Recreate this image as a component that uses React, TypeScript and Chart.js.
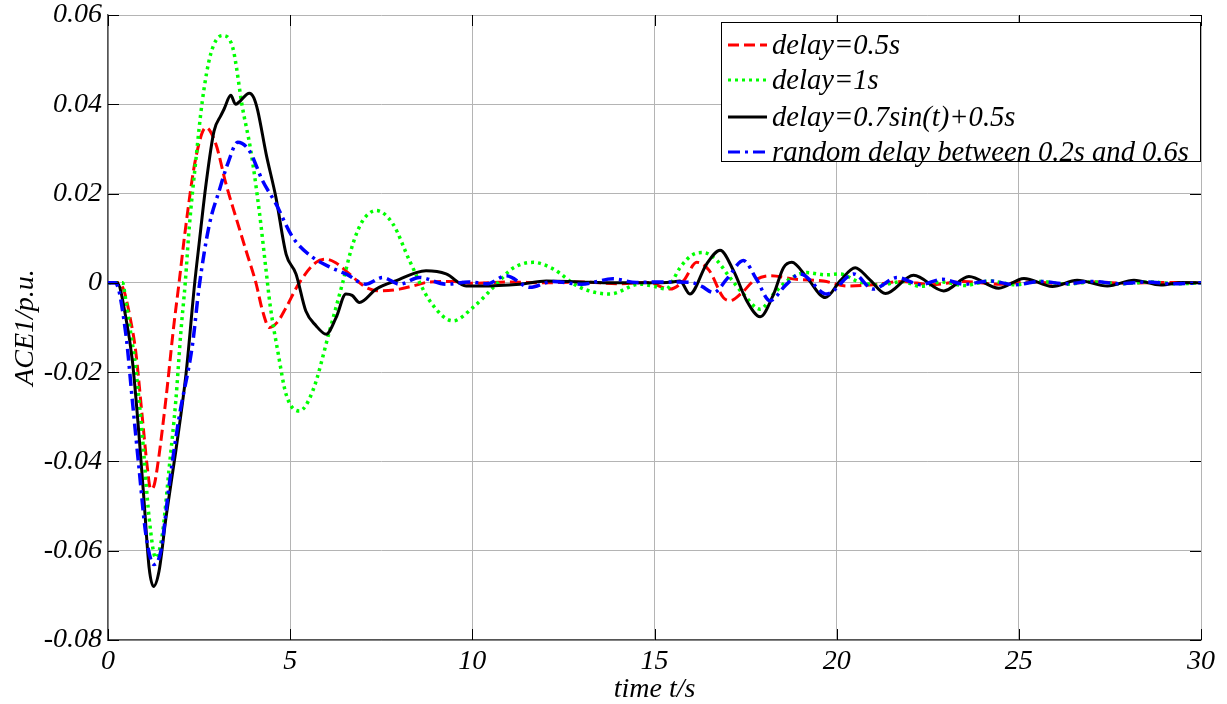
import React, { useEffect, useRef } from 'react';
import { Chart, registerables } from 'chart.js';

Chart.register(...registerables);

// ---- data (time t/s, ACE1/p.u.) ----
const legendLabels = [
  'delay=0.5s',
  'delay=1s',
  'delay=0.7sin(t)+0.5s',
  'random delay between 0.2s and 0.6s',
];

const xTickValues = [0, 5, 10, 15, 20, 25, 30];
const yTickValues = [-0.08, -0.06, -0.04, -0.02, 0, 0.02, 0.04, 0.06];

const delay05: [number, number][] = [
  [0, 0], [0.3, 0], [0.44, -0.0018], [0.6, -0.0075], [0.76, -0.0153], [0.94, -0.03], [1.08, -0.0414],
  [1.17, -0.0462], [1.26, -0.0455], [1.36, -0.041], [1.59, -0.026], [1.8, -0.01], [1.95, 0], [2.14, 0.013],
  [2.41, 0.028], [2.69, 0.0348], [2.96, 0.0311], [3.24, 0.0221], [3.51, 0.0147], [3.79, 0.0072], [4.06, 0],
  [4.25, -0.0065], [4.43, -0.01], [4.65, -0.0088], [4.89, -0.0055], [5.25, 0], [5.71, 0.0046], [5.98, 0.0053],
  [6.25, 0.0045], [6.53, 0.0027], [7.08, -0.001], [7.45, -0.0018], [8.0, -0.0014], [8.37, -0.0007],
  [8.83, 0.0002], [9.5, 0.0003], [10.0, -0.0001], [11.0, 0.0002], [12.0, 0], [13.0, 0.0002], [14.0, -0.0002],
  [14.8, 0.0001], [15.43, -0.0014], [15.8, 0.0005], [16.16, 0.0046], [16.5, 0.0028], [16.89, -0.0033],
  [17.07, -0.004], [17.4, -0.0022], [17.72, 0.0004], [18.17, 0.0016], [18.9, 0.0008], [19.64, 0.0004],
  [20.28, -0.0007], [21.0, -0.0004], [21.8, 0.0003], [22.6, -0.0004], [23.5, 0.0003], [24.4, -0.0003],
  [25.3, 0.0002], [26.2, -0.0002], [27.1, 0.0002], [28.0, -0.0001], [28.9, 0.0001], [30, 0],
];

const delay1: [number, number][] = [
  [0, 0], [0.4, 0], [0.49, -0.004], [0.62, -0.011], [0.76, -0.019], [0.94, -0.034], [1.13, -0.0527],
  [1.31, -0.0616], [1.49, -0.0564], [1.68, -0.0414], [1.86, -0.0265], [2.0, -0.011], [2.12, 0],
  [2.23, 0.0124], [2.41, 0.0274], [2.59, 0.0408], [2.82, 0.0513], [3.14, 0.0554], [3.42, 0.0528],
  [3.69, 0.0393], [3.92, 0.0296], [4.15, 0.0162], [4.34, 0.0027], [4.45, -0.005], [4.66, -0.0153],
  [4.89, -0.025], [5.25, -0.0287], [5.62, -0.0242], [6.08, -0.0108], [6.44, 0], [6.72, 0.0087],
  [6.99, 0.0139], [7.36, 0.0162], [7.82, 0.0132], [8.28, 0.0049], [8.83, -0.004], [9.47, -0.0085],
  [10.02, -0.0055], [10.66, -0.0003], [11.1, 0.0032], [11.67, 0.0046], [12.2, 0.0032], [12.95, -0.001],
  [13.78, -0.0025], [14.6, -0.0003], [15.0, -0.0008], [15.33, -0.0014], [15.5, 0.0005], [15.7, 0.0034],
  [16.07, 0.0064], [16.34, 0.0068], [16.71, 0.005], [17.07, 0.0012], [17.44, -0.0025], [17.9, -0.0059],
  [18.27, -0.0025], [18.63, 0.0004], [19.18, 0.0023], [19.7, 0.0018], [20.1, 0.002], [20.56, 0.0004],
  [21.2, -0.0005], [21.8, 0.0003], [22.3, -0.0008], [22.9, 0.0002], [23.5, -0.0006], [24.2, 0.0004],
  [24.9, -0.0004], [25.6, 0.0003], [26.3, -0.0003], [27.0, 0.0002], [27.8, -0.0002], [28.6, 0.0002],
  [29.3, -0.0002], [30, 0],
];

const delaySin: [number, number][] = [
  [0, 0], [0.25, 0], [0.49, -0.0078], [0.67, -0.0175], [0.85, -0.034], [0.99, -0.0489], [1.13, -0.0639],
  [1.25, -0.068], [1.4, -0.0646], [1.59, -0.0527], [1.86, -0.0377], [2.14, -0.0205], [2.38, 0],
  [2.5, 0.0087], [2.69, 0.0221], [2.91, 0.034], [3.1, 0.0375], [3.19, 0.039], [3.37, 0.042], [3.5, 0.04],
  [3.6, 0.0405], [3.88, 0.0425], [4.0, 0.0415], [4.11, 0.0386], [4.34, 0.0289], [4.61, 0.0191],
  [4.89, 0.0064], [5.16, 0.002], [5.43, -0.0063], [5.71, -0.0096], [5.99, -0.0115], [6.26, -0.0078],
  [6.53, -0.0025], [6.7, -0.0028], [6.9, -0.0044], [7.36, -0.0014], [8.0, 0.0008], [8.46, 0.0023],
  [8.73, 0.0027], [9.28, 0.002], [9.83, -0.0007], [10.2, -0.0007], [11.3, -0.0003], [12.03, 0.0004],
  [12.95, 0.0002], [13.86, 0], [14.78, 0], [15.5, 0.0002], [15.7, 0.0004], [15.97, -0.0025],
  [16.43, 0.0042], [16.8, 0.0073], [17.17, 0.0027], [17.53, -0.004], [17.9, -0.0076], [18.27, -0.0025],
  [18.54, 0.0034], [18.77, 0.0046], [19.18, 0.0012], [19.69, -0.0033], [20.1, 0.0005], [20.51, 0.0034],
  [20.9, 0.0008], [21.34, -0.0024], [22.11, 0.0017], [22.94, -0.0018], [23.63, 0.0014], [24.45, -0.0012],
  [25.14, 0.001], [25.92, -0.0008], [26.6, 0.0006], [27.43, -0.0007], [28.16, 0.0006], [28.9, -0.0005],
  [29.5, 0.0001], [30, 0],
];

const delayRandom: [number, number][] = [
  [0, 0], [0.2, 0], [0.49, -0.0115], [0.67, -0.0265], [0.85, -0.0414], [1.04, -0.0564], [1.26, -0.0631],
  [1.45, -0.0601], [1.68, -0.0452], [1.95, -0.0302], [2.32, -0.0138], [2.5, -0.001], [2.78, 0.013],
  [3.05, 0.0206], [3.3, 0.027], [3.56, 0.0315], [3.88, 0.0296], [4.24, 0.0229], [4.61, 0.0177],
  [5.07, 0.0102], [5.62, 0.0057], [6.1, 0.0035], [6.53, 0.002], [7.08, -0.0003], [7.54, 0.0012],
  [8.0, -0.0003], [8.55, 0.0012], [9.28, -0.0003], [9.9, 0.0002], [10.4, -0.0002], [10.93, 0.0016],
  [11.58, -0.001], [12.2, 0.0003], [13.0, -0.0003], [13.86, 0.0009], [14.5, 0.0001], [15.2, 0.0002],
  [16.0, 0.0001], [16.3, -0.0008], [16.62, -0.0022], [17.0, 0.001], [17.44, 0.005], [17.8, 0.0008],
  [18.17, -0.004], [18.6, -0.0005], [19.0, 0.002], [19.73, -0.0025], [20.47, 0.002], [21.0, -0.0014],
  [21.66, 0.0012], [22.3, -0.0004], [22.9, 0.0008], [23.5, -0.0003], [24.2, 0.0004], [24.9, -0.0004],
  [25.6, 0.0003], [26.3, -0.0002], [27.0, 0.0003], [27.8, -0.0002], [28.5, 0.0002], [29.2, -0.0002], [30, 0],
];

const FONT = '"Liberation Serif", "Times New Roman", serif';

const seriesStyles = [
  { color: '#ff0000', dash: [11, 5], width: 3 },
  { color: '#00ff00', dash: [3, 4], width: 3.5 },
  { color: '#000000', dash: [] as number[], width: 3 },
  { color: '#0000ff', dash: [12, 5, 3, 5], width: 3.5 },
];

const legendPlugin = {
  id: 'boxLegend',
  afterDraw(chart: any) {
    const { ctx, chartArea } = chart;
    const right = chartArea.right;
    const left = right - 480;
    const top = chartArea.top + 7;
    const bottom = top + 139;
    ctx.save();
    ctx.fillStyle = '#ffffff';
    ctx.fillRect(left, top, right - left, bottom - top);
    ctx.strokeStyle = '#000000';
    ctx.lineWidth = 1;
    ctx.strokeRect(Math.round(left) + 0.5, Math.round(top) + 0.5, right - left - 1, bottom - top);
    const rows = [23, 58, 95, 130];
    ctx.font = `italic 28.6px ${FONT}`;
    ctx.textBaseline = 'middle';
    ctx.textAlign = 'left';
    legendLabels.forEach((label, i) => {
      const st = seriesStyles[i];
      const y = top + rows[i];
      ctx.beginPath();
      ctx.setLineDash(st.dash);
      ctx.strokeStyle = st.color;
      ctx.lineWidth = 3;
      ctx.moveTo(left + 7, y);
      ctx.lineTo(left + 46, y);
      ctx.stroke();
      ctx.setLineDash([]);
      ctx.fillStyle = '#000000';
      ctx.fillText(label, left + 51, y + 1);
    });
    ctx.restore();
  },
};

const innerTicksPlugin = {
  id: 'innerTicks',
  afterDatasetsDraw(chart: any) {
    const { ctx, chartArea, scales } = chart;
    const L = 11;
    ctx.save();
    ctx.strokeStyle = '#000000';
    ctx.lineWidth = 1;
    ctx.beginPath();
    yTickValues.forEach((v) => {
      const y = Math.round(scales.y.getPixelForValue(v)) + 0.5;
      ctx.moveTo(chartArea.left, y);
      ctx.lineTo(chartArea.left + L, y);
      ctx.moveTo(chartArea.right, y);
      ctx.lineTo(chartArea.right - L, y);
    });
    xTickValues.forEach((v) => {
      const x = Math.round(scales.x.getPixelForValue(v)) + 0.5;
      ctx.moveTo(x, chartArea.bottom);
      ctx.lineTo(x, chartArea.bottom - L);
      ctx.moveTo(x, chartArea.top);
      ctx.lineTo(x, chartArea.top + L);
    });
    ctx.stroke();
    ctx.restore();
  },
};

export default function App() {
  const canvasRef = useRef<HTMLCanvasElement>(null);

  useEffect(() => {
    document.body.style.margin = '0';
    const canvas = canvasRef.current;
    if (!canvas) return;
    const seriesData = [delay05, delay1, delaySin, delayRandom];
    const orders = [3, 2, 1, 0];
    const chart = new Chart(canvas, {
      type: 'line',
      data: {
        datasets: seriesData.map((arr, i) => ({
          label: legendLabels[i],
          data: arr.map(([x, y]) => ({ x, y })),
          borderColor: seriesStyles[i].color,
          borderDash: seriesStyles[i].dash,
          borderWidth: seriesStyles[i].width,
          pointRadius: 0,
          fill: false,
          cubicInterpolationMode: 'monotone' as const,
          order: orders[i],
        })),
      },
      options: {
        animation: false,
        responsive: false,
        maintainAspectRatio: false,
        layout: { padding: { top: 15, right: 26, left: 0, bottom: 0 } },
        plugins: {
          legend: { display: false },
          tooltip: { enabled: false },
        },
        scales: {
          x: {
            type: 'linear',
            min: 0,
            max: 30,
            afterBuildTicks: (s: any) => {
              s.ticks = xTickValues.map((v) => ({ value: v }));
            },
            afterFit: (s: any) => {
              s.height = 64;
              s.paddingLeft = 0;
              s.paddingRight = 0;
            },
            ticks: {
              color: '#000',
              padding: 8,
              font: { family: FONT, size: 28, style: 'italic', lineHeight: 1 },
              maxRotation: 0,
            },
            grid: { color: '#b4b4b4', lineWidth: 1, drawTicks: false },
            border: { color: '#555555', width: 1.5 },
            title: {
              display: true,
              text: 'time t/s',
              color: '#000',
              font: { family: FONT, size: 28, style: 'italic', lineHeight: 1 },
              padding: { top: 0, bottom: 0 },
            },
          },
          y: {
            type: 'linear',
            min: -0.08,
            max: 0.06,
            afterBuildTicks: (s: any) => {
              s.ticks = yTickValues.map((v) => ({ value: v }));
            },
            afterFit: (s: any) => {
              s.width = 108;
              s.paddingTop = 0;
              s.paddingBottom = 0;
            },
            ticks: {
              color: '#000',
              padding: 6,
              font: { family: FONT, size: 28, style: 'italic', lineHeight: 1 },
              callback: (v: any) => {
                const r = Math.round(Number(v) * 100) / 100;
                return r === 0 ? '0' : r.toFixed(2);
              },
            },
            grid: { color: '#b4b4b4', lineWidth: 1, drawTicks: false },
            border: { color: '#555555', width: 1.5 },
            title: {
              display: true,
              text: 'ACE1/p.u.',
              color: '#000',
              font: { family: FONT, size: 28, style: 'italic', lineHeight: 1 },
              padding: { top: 12, bottom: 0 },
            },
          },
        },
      },
      plugins: [innerTicksPlugin, legendPlugin],
    });
    return () => chart.destroy();
  }, []);

  return (
    <div style={{ position: 'absolute', left: 0, top: 0, width: 1227, height: 704, background: '#fff' }}>
      <canvas ref={canvasRef} width={1227} height={704} style={{ display: 'block' }} />
    </div>
  );
}
